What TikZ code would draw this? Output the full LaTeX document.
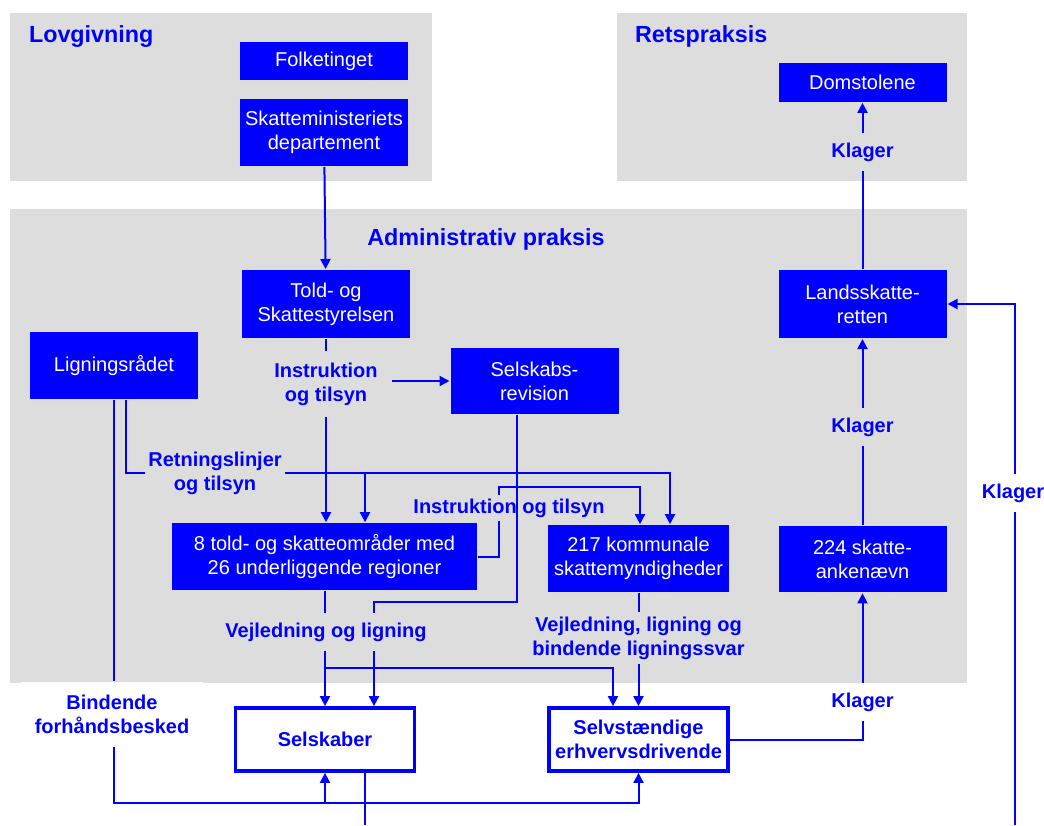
\documentclass[tikz,border=0pt]{standalone}
\usepackage{fontspec}
\setmainfont{Liberation Sans}
\usetikzlibrary{arrows.meta}
\definecolor{skblue}{RGB}{0,0,255}
\definecolor{skgray}{RGB}{221,221,221}

\begin{document}
\begin{tikzpicture}[x=0.75pt,y=-0.75pt,line width=1.5pt,color=skblue,
  box/.style={fill=skblue,text=white,minimum width=126pt,minimum height=50pt,align=center,inner sep=2pt,font=\fontsize{15}{18}\selectfont},
  wbox/.style={draw=skblue,line width=2.6pt,fill=white,text=skblue,minimum width=134pt,minimum height=47.5pt,align=center,font=\fontsize{15}{18}\selectfont\bfseries},
  lbl/.style={text=skblue,align=center,inner xsep=3pt,inner ysep=6.5pt,font=\fontsize{15}{18}\selectfont\bfseries},
  head/.style={text=skblue,inner sep=0pt,font=\fontsize{17.5}{20}\selectfont\bfseries},
  panel/.style={fill=skgray},
  arr/.style={-{Triangle[length=7.5pt,width=7.5pt]}}]
\useasboundingbox (0,0) rectangle (1044,825);
\fill[panel] (10,13) rectangle (432,181);
\fill[panel] (617,13) rectangle (967,181);
\fill[panel] (10,209) rectangle (967,683);

\node[head,anchor=base west] (lov) at (28,42) {Lovgivning};
\node[head,anchor=base west] (ret) at (634,42) {Retspraksis};
\node[head,anchor=base] (adm) at (486,245) {Administrativ praksis};

\node[box,minimum height=28.5pt] (folk) at (324,61) {Folketinget};
\node[box] (dep) at (324,132.5) {Skatteministeriets\\departement};
\node[box,minimum height=29pt] (dom) at (862.5,82.5) {Domstolene};
\node[box,minimum height=51pt] (told) at (326,304) {Told- og\\Skattestyrelsen};
\node[box] (lign) at (114,365.5) {Ligningsrådet};
\node[box] (selrev) at (534.5,381) {Selskabs-\\revision};
\node[box,minimum height=51pt] (lands) at (862.5,304) {Landsskatte-\\retten};
\node[box,minimum width=229pt] (omr) at (324.5,556.5) {8 told- og skatteområder med\\26 underliggende regioner};
\node[box,minimum width=136pt] (kom) at (638.5,558.5) {217 kommunale\\skattemyndigheder};
\node[box] (ank) at (862.5,559) {224 skatte-\\ankenævn};
\node[wbox] (selsk) at (325,739.5) {Selskaber};
\node[wbox] (selv) at (638.5,739.5) {Selvstændige\\erhvervsdrivende};

\node[lbl] (klagerTop) at (862.5,152) {Klager};
\node[lbl,inner ysep=8pt,inner xsep=10pt] (instrA) at (326,384) {Instruktion\\og tilsyn};
\node[lbl,inner xsep=2pt] (retn) at (215,473) {Retningslinjer\\og tilsyn};
\node[lbl,inner ysep=2pt] (instrB) at (509,508) {Instruktion og tilsyn};
\node[lbl] (vejlA) at (326,632) {Vejledning og ligning};
\node[lbl,inner ysep=2.5pt] (vejlB) at (638.5,638) {Vejledning, ligning og\\bindende ligningssvar};
\node[lbl] (klagerMid) at (862.5,427) {Klager};
\node[lbl] (klagerBot) at (862.5,702) {Klager};
\node[lbl] (klagerR) at (1013,493) {Klager};
\node[lbl,fill=white,inner xsep=10pt,inner ysep=9.5pt] (bind) at (112,714) {Bindende\\forhåndsbesked};

\draw[arr] (dep) -- (told);
\draw (lands) -- (klagerTop);
\draw[arr] (klagerTop) -- (dom);
\draw (told) -- (instrA);
\draw[arr] (instrA) -- (instrA |- omr.north);
\draw[arr] (instrA.east |- selrev.west) -- (selrev.west);

\coordinate (rA) at (365,473);
\coordinate (rB) at (670,473);
\draw ([xshift=9pt]lign.south) |- (retn.west);
\draw[arr] (retn.east) -| (rB |- kom.north);
\draw[arr] (rA) -- (rA |- omr.north);

\coordinate (iB) at (499,487);
\coordinate (iC) at (640,487);
\draw (omr.east) -| (iB |- instrB.south);
\draw[arr] (iB |- instrB.north) -- (iB) -- (iC) -- (iC |- kom.north);

\coordinate (s1) at (517,602);
\coordinate (s2) at (374,602);
\draw (selrev.south -| s1) -- (s1) -- (s2) -- (s2 |- vejlA.north);
\draw[arr] (s2 |- vejlA.south) -- (s2 |- selsk.north);

\draw (omr.south -| selsk.north) -- (vejlA.north -| selsk.north);
\draw[arr] (vejlA.south -| selsk.north) -- (selsk.north);
\coordinate (v1) at (325,668);
\coordinate (v2) at (613,668);
\draw[arr] (v1) -- (v2) -- (v2 |- selv.north);

\draw (kom) -- (vejlB);
\draw[arr] (vejlB) -- (selv);

\draw (selv.east) -| (klagerBot.south);
\draw[arr] (klagerBot) -- (ank);
\draw (ank) -- (klagerMid);
\draw[arr] (klagerMid) -- (lands);

\coordinate (kr0) at (1015,825);
\draw (kr0) -- (kr0 |- klagerR.south);
\draw[arr] (kr0 |- klagerR.north) |- (lands.east);

\coordinate (b1) at (114,803);
\draw (lign.south) -- (lign.south |- bind.north);
\draw[arr] (lign.south |- bind.south) -- (b1) -| (selv.south);
\draw[arr] (b1 -| selsk.south) -- (selsk.south);

\coordinate (sb) at (365,825);
\draw (selsk.south -| sb) -- (sb);
\end{tikzpicture}
\end{document}
